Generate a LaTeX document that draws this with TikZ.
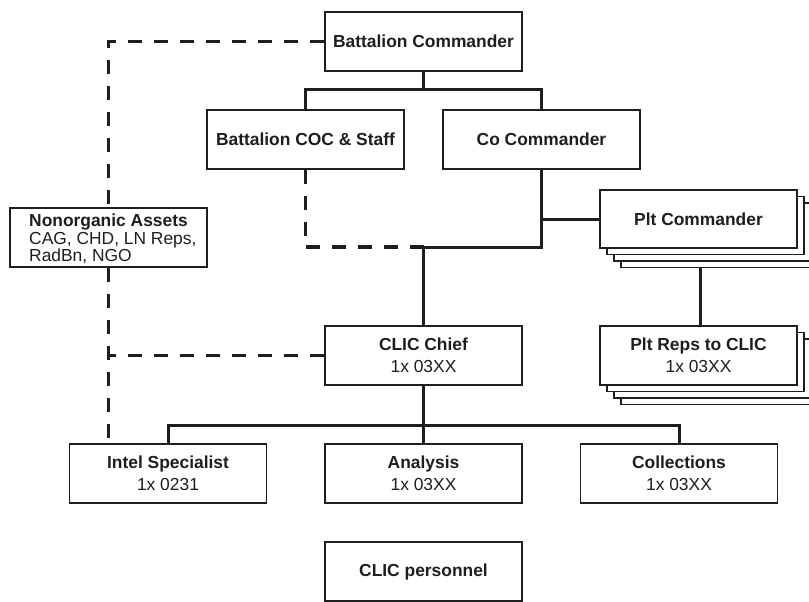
\documentclass[tikz,border=0pt]{standalone}
\usepackage{fontspec}
\setmainfont{Liberation Sans}
\usetikzlibrary{backgrounds}
\definecolor{ink}{HTML}{1E1E1E}
\begin{document}
\begin{tikzpicture}[x=1pt,y=-1pt,
  box/.style={draw=ink, line width=1.8pt, fill=white, minimum width=197pt, minimum height=59pt,
    inner sep=0pt, align=center, font=\fontsize{17.4}{22}\selectfont, text=ink},
  layerbox/.style={draw=ink, line width=1.8pt, fill=white},
  conn/.style={draw=ink, line width=3pt},
  dashln/.style={draw=ink, line width=3.3pt, dash pattern=on 14pt off 12pt},
]
\useasboundingbox (0,0) rectangle (809,602);
\clip (0,0) rectangle (809,602);

% boxes
\node[box] (bc) at (423.5,41.5) {\textbf{Battalion Commander}};
\node[box] (coc) at (305.5,139.5) {\textbf{Battalion COC \& Staff}};
\node[box] (co) at (541.5,139.5) {\textbf{Co Commander}};
\node[box] (non) at (108.5,237.5) {};
\node[anchor=west, align=left, inner sep=0pt, text=ink, font=\fontsize{17.4}{17.5}\selectfont] (nontext) at (29,239)
  {\textbf{Nonorganic Assets}\\CAG, CHD, LN Reps,\\RadBn, NGO};

% stacked Plt Commander
\foreach \i in {3,2,1} \path[layerbox] (600+7*\i,190+6.5*\i) rectangle ++(197,58);
\node[box, minimum height=58pt] (plt) at (698.5,219) {\textbf{Plt Commander}};

% stacked Plt Reps
\foreach \i in {3,2,1} \path[layerbox] (600+7*\i,326+6.5*\i) rectangle ++(197,59);
\node[box] (reps) at (698.5,355.5) {\textbf{Plt Reps to CLIC}\\1x 03XX};

\node[box] (chief) at (423.5,355.5) {\textbf{CLIC Chief}\\1x 03XX};
\node[box] (intel) at (168,473.5) {\textbf{Intel Specialist}\\1x 0231};
\node[box] (ana) at (423.5,473.5) {\textbf{Analysis}\\1x 03XX};
\node[box] (coll) at (679,473.5) {\textbf{Collections}\\1x 03XX};
\node[box] (pers) at (423.5,571.5) {\textbf{CLIC personnel}};

\coordinate (j1) at (423.5,90);
\coordinate (j2) at (423.5,247);
\coordinate (j3) at (423.5,425);
\coordinate (pj) at (700,250);

\begin{scope}[on background layer]
  % solid connectors
  \draw[conn] (bc.south) -- (j1);
  \draw[conn] (coc.north) |- (j1) -| (co.north);
  \draw[conn] (co.south) |- (j2) -- (chief.north);
  \draw[conn] (co.south |- plt.west) -- (plt.west);
  \draw[conn] (pj) -- (pj |- reps.north);
  \draw[conn] (chief.south) -- (ana.north);
  \draw[conn] (intel.north) |- (j3) -| (coll.north);
  % dashed connectors
  \draw[dashln] (bc.west) -| (non.north);
  \draw[dashln] (non.south) -- (non.south |- intel.north);
  \draw[dashln] (chief.west) -- (chief.west -| non.south);
  \draw[dashln] (coc.south) |- (j2);
\end{scope}
\end{tikzpicture}
\end{document}
